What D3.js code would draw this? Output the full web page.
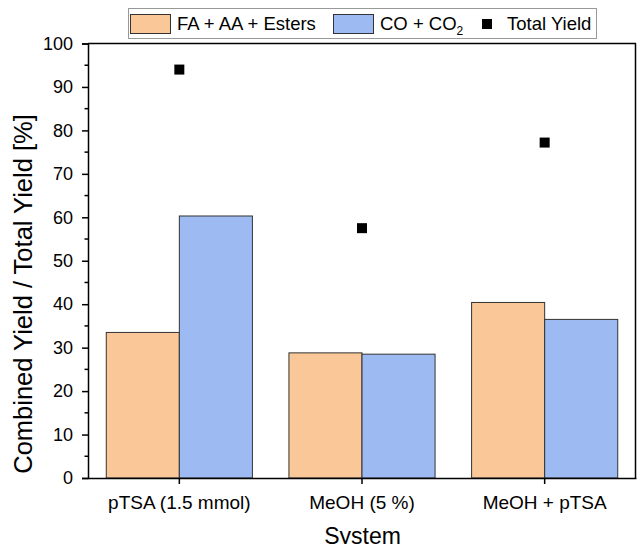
<!DOCTYPE html>
<html><head><meta charset="utf-8">
<script src="https://cdn.jsdelivr.net/npm/d3@7"></script>
<style>body{margin:0;background:#fff}svg{display:block;font-family:Arial,"Liberation Sans",sans-serif}</style>
</head><body>
<svg id="c" width="637" height="544"></svg>
<script>
const categories = ["pTSA (1.5 mmol)", "MeOH (5 %)", "MeOH + pTSA"];
const faAaEsters = [33.5, 28.8, 40.4];
const coCo2 = [60.3, 28.5, 36.5];
const totalYield = [94.0, 57.5, 77.2];
const yTicks = [0, 10, 20, 30, 40, 50, 60, 70, 80, 90, 100];
const seriesNames = ["FA + AA + Esters", "CO + CO2", "Total Yield"];
const colors = ["#FAC898", "#9DBBF2"];

const svg = d3.select("#c");
const m = {l: 88, r: 1, t: 43.5, b: 66};
const W = 637, H = 544;
const x = d3.scaleBand().domain(categories).range([m.l, W - m.r]).paddingInner(0.2).paddingOuter(0.1);
const xs = d3.scaleBand().domain([0, 1]).range([0, x.bandwidth()]);
const y = d3.scaleLinear().domain([0, 100]).range([H - m.b, m.t]);

const series = [faAaEsters, coCo2];
series.forEach((vals, si) => {
  svg.append("g").selectAll("rect").data(vals).join("rect")
    .attr("x", (d, i) => x(categories[i]) + xs(si))
    .attr("y", d => y(d))
    .attr("width", xs.bandwidth())
    .attr("height", d => y(0) - y(d))
    .attr("fill", colors[si])
    .attr("stroke", "#333").attr("stroke-width", 1);
});

// total yield squares
svg.append("g").selectAll("rect").data(totalYield).join("rect")
  .attr("x", (d, i) => x(categories[i]) + x.bandwidth() / 2 - 5)
  .attr("y", d => y(d) - 5)
  .attr("width", 10).attr("height", 10).attr("fill", "#000");

// frame top/right
svg.append("line").attr("x1", m.l).attr("x2", W - m.r).attr("y1", m.t).attr("y2", m.t).attr("stroke", "#000").attr("stroke-width", 1.5);
svg.append("line").attr("x1", W - m.r - 0.5).attr("x2", W - m.r - 0.5).attr("y1", m.t).attr("y2", y(0)).attr("stroke", "#000").attr("stroke-width", 1.5);

// y axis
const yAxis = d3.axisLeft(y).tickValues(yTicks).tickSize(6).tickPadding(9).tickFormat(d3.format("d"));
const gy = svg.append("g").attr("transform", `translate(${m.l},0)`).call(yAxis);
gy.selectAll("text").attr("font-size", 18).attr("fill", "#000").attr("font-family", "Arial, 'Liberation Sans', sans-serif");
gy.select(".domain").attr("stroke-width", 1.5);
gy.selectAll(".tick line").attr("stroke-width", 1.5);
const minor = d3.range(5, 100, 10);
svg.append("g").selectAll("line").data(minor).join("line")
  .attr("x1", m.l - 3.5).attr("x2", m.l).attr("y1", d => y(d)).attr("y2", d => y(d))
  .attr("stroke", "#000").attr("stroke-width", 1.5);

// x axis
const xAxis = d3.axisBottom(x).tickSize(6).tickPadding(12).tickSizeOuter(0);
const gx = svg.append("g").attr("transform", `translate(0,${y(0)})`).call(xAxis);
gx.selectAll("text").attr("font-size", 19).attr("fill", "#000").attr("font-family", "Arial, 'Liberation Sans', sans-serif");
gx.select(".domain").attr("stroke-width", 1.5);
gx.selectAll(".tick line").attr("stroke-width", 1.5);

// axis titles
svg.append("text").attr("x", 362.5).attr("y", 543.5).attr("text-anchor", "middle")
  .attr("font-size", 23).text("System");
svg.append("text").attr("transform", `translate(32,294) rotate(-90)`).attr("text-anchor", "middle")
  .attr("font-size", 25.5).text("Combined Yield / Total Yield [%]");

// legend
const lg = svg.append("g");
lg.append("rect").attr("x", 128.5).attr("y", 8.5).attr("width", 468).attr("height", 30)
  .attr("fill", "#fff").attr("stroke", "#999").attr("stroke-width", 1);
lg.append("rect").attr("x", 130.5).attr("y", 14.5).attr("width", 40).attr("height", 19).attr("fill", colors[0]).attr("stroke", "#333");
lg.append("text").attr("x", 177).attr("y", 30).attr("font-size", 18.5).text(seriesNames[0]);
lg.append("rect").attr("x", 333.5).attr("y", 14.5).attr("width", 40).attr("height", 19).attr("fill", colors[1]).attr("stroke", "#333");
const t2 = lg.append("text").attr("x", 380).attr("y", 30).attr("font-size", 18.5);
t2.append("tspan").text("CO + CO");
t2.append("tspan").attr("font-size", 12).attr("dy", 5).text("2");
lg.append("rect").attr("x", 482).attr("y", 19).attr("width", 10).attr("height", 10).attr("fill", "#000");
lg.append("text").attr("x", 507).attr("y", 30).attr("font-size", 18.5).text(seriesNames[2]);
</script>
</body></html>
